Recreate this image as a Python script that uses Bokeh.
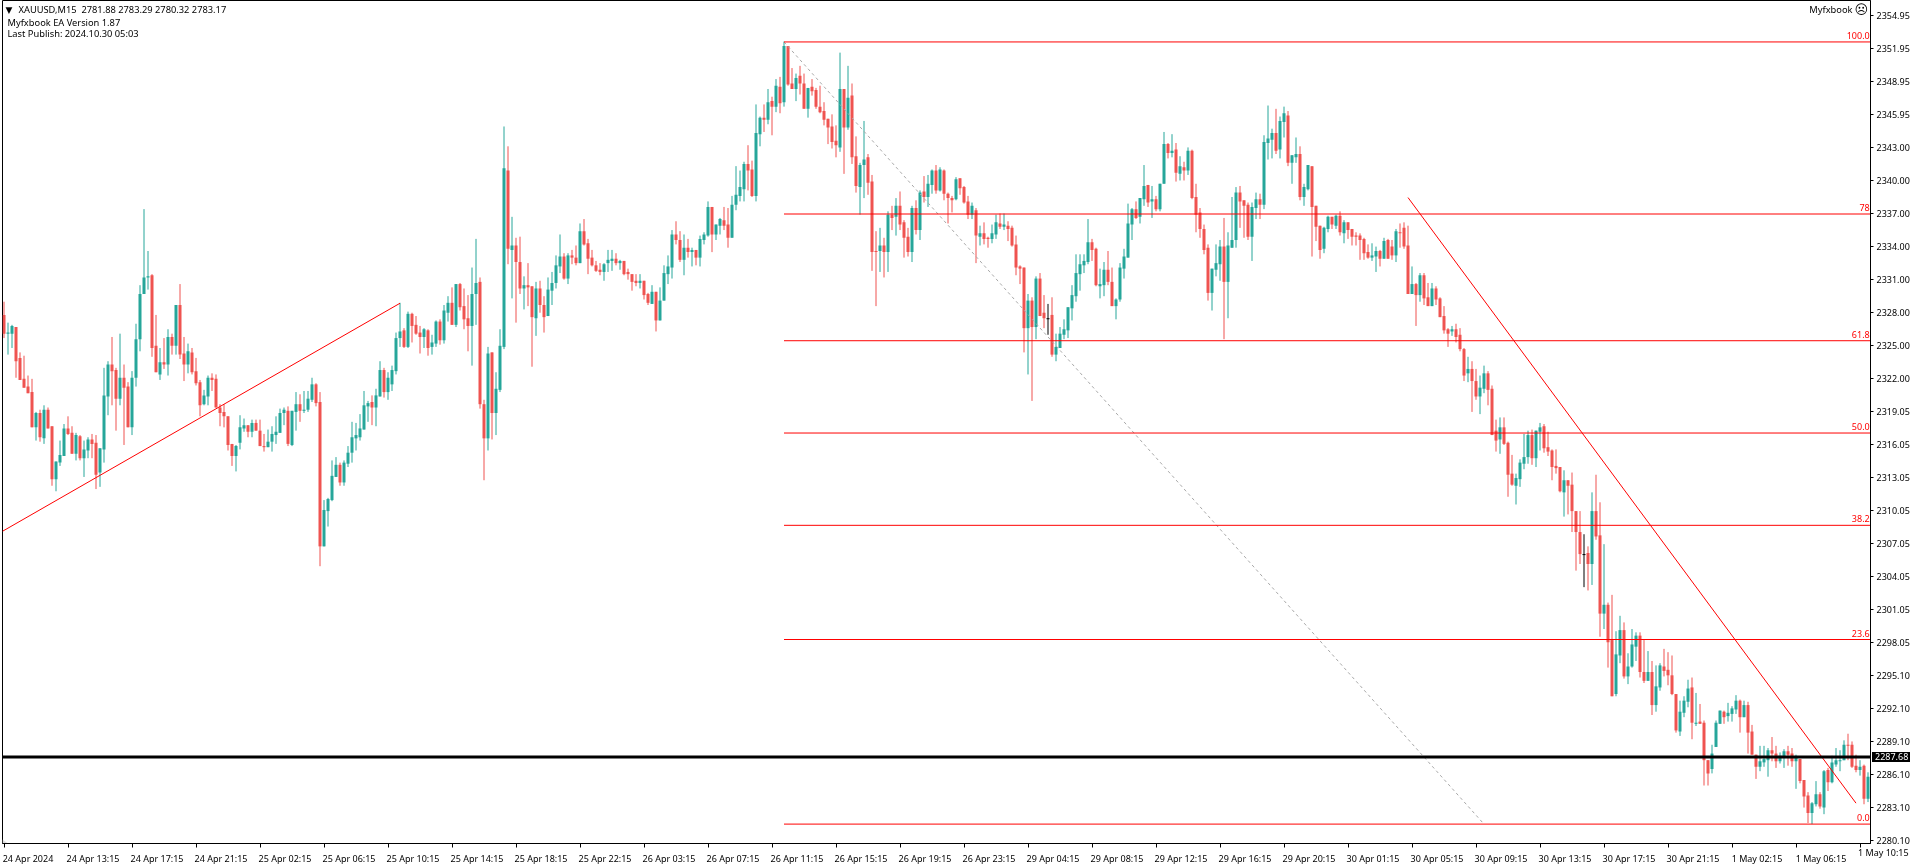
from bokeh.plotting import figure
from bokeh.models import (Range1d, FixedTicker, Label, LabelSet, ColumnDataSource, Span,
                          NumeralTickFormatter, Div)
from bokeh.embed import file_html
from bokeh.resources import INLINE
from bokeh.core.properties import value
import numpy as np

highs = [
2329.0,2327.1,2326.9,2326.7,2324.4,2324.1,2322.3,2322.0,2319.0,2319.2,
2319.6,2319.4,2317.7,2314.5,2316.4,2317.9,2318.6,2317.7,2317.1,2316.9,
2316.4,2316.7,2317.0,2316.9,2315.7,2323.0,2323.6,2325.8,2323.0,2326.1,
2323.3,2321.7,2322.7,2327.0,2330.5,2337.4,2333.6,2331.5,2327.8,2324.8,
2325.7,2326.5,2326.1,2328.7,2330.6,2325.8,2325.2,2324.8,2323.9,2321.9,
2321.0,2322.3,2322.5,2322.4,2319.7,2319.7,2318.6,2316.1,2316.0,2318.7,
2318.4,2317.8,2318.3,2318.3,2318.3,2317.0,2317.4,2317.7,2318.6,2319.3,
2319.4,2319.5,2319.1,2320.8,2320.6,2320.9,2320.9,2322.1,2321.6,2320.8,
2311.0,2311.2,2314.6,2314.9,2314.4,2314.6,2315.9,2318.1,2318.0,2318.8,
2320.9,2320.0,2320.5,2321.1,2323.6,2323.0,2322.6,2323.2,2326.2,2328.9,
2326.6,2328.1,2328.0,2327.7,2326.8,2326.6,2326.5,2326.0,2327.3,2327.4,
2328.7,2329.5,2330.3,2330.6,2330.7,2330.2,2329.6,2332.1,2334.7,2331.2,
2320.1,2324.9,2324.4,2322.6,2326.5,2344.9,2343.1,2336.7,2334.8,2334.9,
2331.3,2332.5,2330.4,2330.8,2330.9,2329.5,2331.2,2331.7,2333.2,2335.1,
2333.4,2333.4,2333.7,2334.1,2336.1,2336.5,2334.7,2333.7,2332.7,2332.5,
2332.5,2333.7,2333.7,2333.4,2332.8,2332.7,2332.0,2331.5,2331.5,2331.5,
2330.9,2329.8,2330.5,2329.9,2330.3,2332.3,2333.2,2335.5,2336.3,2335.4,
2335.1,2334.7,2333.9,2333.7,2335.0,2335.3,2338.1,2337.6,2336.0,2336.6,
2337.6,2337.5,2338.6,2341.3,2340.9,2341.7,2343.2,2341.8,2346.9,2345.8,
2346.9,2348.3,2347.6,2349.2,2349.4,2352.6,2352.2,2350.2,2349.7,2350.4,
2349.7,2348.4,2349.2,2348.4,2348.6,2347.1,2345.6,2346.0,2345.0,2351.6,
2348.3,2350.4,2348.8,2344.0,2341.6,2345.4,2342.4,2340.5,2335.4,2335.7,
2334.8,2337.2,2337.7,2338.4,2339.0,2336.4,2335.7,2337.7,2338.2,2339.1,
2340.4,2340.5,2341.0,2341.4,2341.2,2341.0,2338.9,2338.6,2340.3,2340.2,
2339.5,2338.6,2338.0,2337.5,2335.9,2336.2,2334.9,2336.0,2336.9,2337.0,
2337.0,2336.3,2335.9,2335.0,2332.3,2332.1,2329.7,2329.4,2331.3,2331.6,
2329.6,2328.8,2329.4,2326.1,2326.7,2327.4,2328.5,2330.5,2333.3,2333.3,
2333.3,2336.5,2334.7,2333.9,2332.0,2332.6,2333.6,2332.1,2329.3,2332.5,
2333.8,2337.9,2337.5,2338.1,2338.4,2341.4,2339.6,2339.5,2338.6,2339.7,
2344.4,2343.4,2344.2,2343.4,2342.2,2341.7,2343.0,2342.8,2339.7,2337.5,
2336.0,2334.2,2332.0,2334.2,2334.6,2336.6,2335.3,2338.5,2339.4,2339.5,
2338.2,2338.0,2338.0,2338.9,2338.8,2344.1,2346.8,2344.7,2346.5,2345.8,
2346.7,2346.3,2342.3,2343.9,2343.1,2339.7,2341.4,2341.3,2337.7,2335.9,
2335.8,2336.8,2336.7,2336.9,2337.2,2336.4,2336.2,2335.6,2335.3,2335.2,
2334.8,2334.2,2334.3,2334.0,2333.7,2334.8,2334.7,2334.6,2335.6,2336.1,
2336.2,2335.9,2332.2,2330.7,2331.6,2331.6,2330.7,2330.7,2330.4,2329.4,
2328.6,2326.6,2326.8,2327.0,2326.6,2324.8,2324.0,2323.6,2322.9,2322.3,
2323.2,2322.7,2321.4,2318.3,2318.5,2318.5,2316.3,2315.1,2313.4,2314.7,
2317.0,2317.3,2317.4,2317.3,2318.0,2317.9,2317.2,2315.6,2315.6,2314.0,
2313.7,2312.8,2313.5,2310.0,2310.0,2307.9,2306.8,2311.7,2313.3,2310.8,
2307.0,2301.7,2302.4,2299.1,2300.5,2299.9,2297.1,2299.3,2299.0,2299.0,
2298.3,2297.3,2296.4,2296.0,2296.2,2297.5,2297.2,2296.9,2293.4,2292.8,
2293.2,2294.7,2294.9,2293.5,2292.5,2291.0,2287.4,2288.8,2291.0,2291.9,
2291.9,2292.6,2292.3,2293.3,2292.9,2292.8,2292.7,2290.6,2287.9,2288.7,
2288.7,2288.5,2289.5,2288.7,2288.1,2288.4,2288.7,2288.5,2287.9,2287.5,
2285.6,2284.5,2283.6,2285.5,2284.5,2286.5,2286.7,2287.8,2288.5,2288.3,
2289.2,2289.8,2289.1,2287.9,2287.4,2287.0,2286.3,
]

lows = [
2325.7,2324.2,2324.8,2322.1,2321.9,2321.2,2320.7,2317.6,2316.4,2316.3,
2316.1,2317.5,2312.3,2311.8,2314.1,2315.0,2316.9,2315.2,2314.6,2314.6,
2313.1,2314.8,2314.8,2312.0,2312.2,2314.4,2318.7,2319.6,2317.3,2319.6,
2316.0,2317.6,2316.9,2321.3,2324.5,2329.7,2330.1,2324.0,2322.6,2321.9,
2322.9,2322.3,2324.2,2324.2,2323.8,2321.8,2322.5,2322.4,2321.4,2318.6,
2319.6,2319.6,2320.9,2319.4,2317.7,2317.6,2315.5,2314.1,2313.6,2315.6,
2317.2,2316.7,2316.7,2317.3,2315.9,2315.4,2315.8,2315.4,2316.1,2317.1,
2317.8,2315.9,2315.9,2317.3,2318.1,2318.9,2319.0,2319.9,2319.5,2305.0,
2306.8,2308.6,2310.9,2313.1,2312.3,2312.3,2314.0,2314.4,2315.5,2316.4,
2317.4,2318.1,2317.8,2317.7,2320.4,2320.3,2320.1,2320.9,2322.4,2324.9,
2324.8,2324.8,2325.3,2326.0,2324.3,2324.8,2324.1,2324.2,2324.9,2325.1,
2325.2,2327.2,2326.9,2326.7,2328.2,2326.5,2324.5,2323.2,2326.9,2319.3,
2312.8,2315.5,2316.5,2316.9,2320.8,2324.7,2332.4,2329.3,2327.1,2329.7,
2328.3,2328.6,2323.1,2325.9,2328.0,2326.2,2327.7,2328.7,2330.2,2331.6,
2331.0,2330.6,2332.4,2332.3,2332.5,2334.1,2331.5,2332.2,2331.7,2331.4,
2330.9,2331.7,2331.8,2332.3,2331.9,2331.4,2331.0,2330.0,2330.4,2330.2,
2329.2,2328.7,2328.8,2326.3,2327.3,2329.1,2330.6,2331.1,2334.2,2332.6,
2331.4,2333.0,2332.2,2332.3,2332.2,2334.2,2334.9,2333.5,2334.6,2335.1,
2335.5,2333.9,2334.8,2337.3,2338.1,2338.1,2339.1,2338.5,2338.1,2343.1,
2344.4,2345.1,2344.1,2346.2,2346.1,2346.7,2348.6,2348.3,2347.2,2347.8,
2346.5,2345.7,2347.7,2346.5,2346.1,2345.0,2343.3,2342.9,2342.1,2342.6,
2340.6,2344.6,2341.5,2338.9,2336.9,2338.4,2338.7,2331.8,2328.6,2331.7,
2331.2,2331.7,2335.5,2335.0,2335.5,2333.0,2333.1,2332.6,2335.1,2334.6,
2338.0,2337.6,2338.8,2338.8,2339.0,2338.2,2336.1,2337.1,2338.2,2338.7,
2337.9,2336.5,2336.5,2332.5,2334.1,2334.2,2333.9,2334.3,2334.7,2335.6,
2335.5,2334.5,2334.0,2331.4,2330.6,2324.4,2322.4,2320.0,2325.6,2327.7,
2326.6,2326.0,2324.0,2323.6,2324.8,2325.6,2325.7,2327.3,2329.0,2330.0,
2331.6,2332.4,2332.7,2330.4,2329.3,2329.5,2330.5,2328.6,2327.4,2329.0,
2331.1,2333.0,2334.6,2336.5,2336.1,2337.7,2337.6,2336.6,2337.2,2337.2,
2339.7,2342.0,2342.1,2339.9,2340.0,2340.0,2340.5,2338.3,2335.3,2334.8,
2333.3,2329.1,2328.2,2331.3,2330.9,2325.6,2327.5,2333.9,2333.9,2335.7,
2334.8,2334.6,2332.7,2336.5,2336.5,2337.4,2341.9,2342.0,2342.4,2342.0,
2343.9,2341.3,2339.7,2341.6,2338.2,2337.7,2339.1,2333.1,2334.5,2332.9,
2333.4,2335.3,2335.6,2335.6,2335.0,2334.3,2334.7,2334.1,2334.1,2332.8,
2332.8,2332.9,2332.7,2331.7,2332.2,2332.9,2332.9,2332.8,2332.6,2333.9,
2333.8,2329.7,2329.7,2326.8,2329.0,2328.7,2328.6,2328.6,2328.7,2327.6,
2326.1,2324.9,2325.9,2325.3,2324.5,2321.8,2321.7,2319.0,2320.1,2318.8,
2320.7,2319.6,2316.9,2315.4,2315.2,2316.0,2311.3,2312.3,2310.6,2312.2,
2313.8,2314.3,2314.2,2314.0,2315.5,2315.3,2315.0,2312.8,2313.4,2311.7,
2309.5,2309.7,2308.1,2304.6,2305.2,2303.1,2302.8,2303.3,2307.4,2298.6,
2299.3,2295.8,2293.2,2293.2,2296.2,2294.8,2294.3,2295.8,2296.4,2294.9,
2294.4,2294.6,2291.5,2291.8,2293.7,2295.0,2294.2,2293.3,2289.9,2289.6,
2291.3,2292.2,2289.3,2290.5,2290.7,2285.1,2285.1,2286.2,2288.6,2290.7,
2290.7,2290.9,2290.9,2291.6,2289.9,2291.3,2288.0,2287.9,2285.7,2286.4,
2286.8,2285.9,2287.3,2286.7,2287.1,2286.7,2286.9,2286.8,2284.8,2285.3,
2283.1,2281.7,2281.6,2283.2,2283.0,2282.5,2284.6,2285.3,2286.8,2286.4,
2287.4,2287.4,2286.7,2286.3,2286.0,2283.4,2283.6,
]

opens = [
2327.8,2326.1,2326.1,2326.7,2323.9,2322.0,2321.3,2320.8,2317.6,2318.9,
2316.6,2319.2,2317.7,2312.9,2314.4,2315.0,2317.5,2317.1,2315.2,2316.8,
2314.8,2315.5,2316.5,2316.2,2313.5,2315.6,2320.4,2323.3,2322.8,2320.2,
2322.1,2321.3,2317.6,2322.1,2325.6,2329.7,2331.2,2331.4,2325.0,2322.4,
2323.5,2323.3,2325.8,2325.0,2328.7,2324.3,2323.3,2324.4,2322.7,2321.7,
2319.7,2320.4,2322.1,2322.0,2319.4,2319.0,2318.6,2316.1,2315.0,2316.2,
2317.5,2317.8,2317.2,2318.0,2317.3,2315.9,2315.8,2316.3,2316.9,2317.1,
2318.9,2319.1,2316.0,2319.0,2319.7,2319.1,2319.2,2320.1,2321.5,2319.9,
2306.8,2310.0,2311.0,2313.1,2314.2,2312.6,2314.3,2315.3,2316.6,2316.7,
2317.4,2319.5,2319.9,2319.4,2320.4,2322.8,2320.8,2321.5,2322.7,2325.7,
2326.4,2324.9,2327.9,2326.9,2326.2,2325.8,2326.4,2324.9,2325.2,2327.2,
2325.5,2328.0,2328.9,2326.9,2330.6,2328.6,2327.5,2326.8,2329.7,2330.8,
2319.7,2316.6,2324.4,2318.9,2321.0,2324.9,2340.9,2333.7,2334.1,2332.6,
2330.2,2330.5,2330.4,2327.5,2330.2,2328.7,2327.7,2330.0,2330.7,2332.2,
2333.1,2331.1,2333.2,2333.0,2332.5,2335.4,2334.3,2333.0,2332.3,2331.9,
2331.7,2332.5,2332.7,2332.9,2332.5,2332.7,2331.7,2331.5,2330.9,2330.7,
2330.9,2329.7,2328.8,2329.9,2327.3,2329.1,2331.5,2332.1,2335.1,2334.6,
2332.8,2333.9,2333.5,2333.7,2333.0,2334.6,2335.0,2337.6,2335.1,2335.9,
2336.4,2336.0,2334.8,2337.8,2338.6,2339.2,2341.5,2341.0,2338.6,2344.2,
2345.7,2345.5,2347.2,2346.7,2348.5,2347.1,2352.2,2348.8,2348.3,2349.5,
2348.8,2346.5,2348.5,2348.2,2346.7,2346.3,2345.6,2344.9,2343.6,2343.0,
2348.3,2344.8,2347.7,2342.2,2339.4,2341.4,2342.1,2339.9,2333.6,2333.6,
2334.1,2333.5,2336.9,2336.7,2337.7,2336.2,2334.9,2333.5,2337.5,2335.5,
2339.0,2338.5,2339.6,2340.9,2339.1,2340.9,2338.8,2338.4,2338.3,2340.2,
2339.4,2338.1,2336.9,2337.3,2334.9,2335.2,2334.8,2334.7,2335.1,2336.1,
2335.8,2335.9,2335.7,2334.2,2332.2,2332.1,2326.6,2329.1,2326.7,2331.1,
2328.0,2327.5,2327.8,2324.2,2324.8,2326.0,2326.4,2328.4,2329.5,2331.5,
2332.3,2332.6,2334.4,2333.8,2330.4,2330.5,2331.9,2330.8,2328.6,2329.2,
2332.0,2333.0,2336.0,2337.4,2336.7,2338.3,2339.6,2338.1,2338.3,2337.4,
2339.7,2343.3,2342.5,2342.8,2340.6,2341.2,2340.9,2342.7,2338.5,2337.1,
2335.6,2333.9,2329.8,2331.9,2332.4,2334.0,2330.8,2333.9,2334.6,2338.9,
2338.2,2337.8,2334.9,2337.5,2338.3,2337.8,2343.4,2343.7,2344.3,2342.8,
2345.3,2345.9,2341.6,2342.1,2342.4,2338.5,2339.2,2341.3,2337.7,2335.9,
2333.8,2335.6,2336.7,2335.9,2336.8,2335.2,2336.2,2335.6,2335.0,2335.0,
2334.7,2333.5,2333.0,2333.1,2333.6,2332.9,2334.6,2334.0,2333.2,2335.3,
2335.7,2334.1,2329.7,2330.6,2329.6,2331.4,2329.4,2328.6,2330.2,2329.3,
2327.7,2326.5,2326.3,2326.5,2326.0,2324.7,2322.5,2322.9,2321.8,2320.4,
2321.1,2322.5,2321.1,2317.3,2316.5,2317.6,2316.2,2313.4,2312.3,2312.9,
2314.3,2314.9,2316.9,2314.8,2317.2,2317.7,2315.8,2315.5,2314.1,2314.0,
2311.7,2312.8,2312.4,2310.0,2308.1,2306.1,2306.2,2305.2,2310.0,2307.8,
2300.7,2301.5,2298.3,2293.4,2296.9,2299.2,2295.0,2295.9,2297.7,2298.7,
2295.4,2294.6,2295.4,2292.4,2294.0,2295.9,2295.6,2295.1,2293.4,2290.0,
2291.7,2292.7,2294.0,2290.7,2290.9,2290.8,2287.4,2286.6,2288.6,2290.7,
2291.8,2291.4,2291.6,2292.0,2292.8,2291.3,2292.4,2290.0,2287.9,2286.8,
2287.2,2287.4,2288.3,2288.0,2287.3,2287.6,2288.2,2288.0,2287.3,2287.5,
2285.6,2284.2,2282.6,2283.4,2284.3,2283.1,2286.5,2285.4,2287.0,2287.3,
2287.4,2288.8,2288.8,2286.9,2286.5,2286.9,2283.9,
]

closes = [
2326.1,2326.2,2326.8,2323.6,2321.9,2321.2,2320.7,2317.6,2318.9,2316.7,
2319.2,2317.5,2312.9,2314.5,2315.1,2317.5,2317.0,2315.2,2316.9,2314.8,
2315.6,2316.5,2316.1,2313.3,2315.7,2320.5,2323.3,2322.7,2320.2,2322.1,
2321.2,2317.6,2322.1,2325.6,2329.7,2331.2,2331.3,2324.8,2322.6,2323.5,
2323.3,2325.8,2325.0,2328.7,2324.2,2323.3,2324.5,2322.6,2321.6,2319.6,
2320.5,2322.1,2321.9,2319.4,2318.9,2318.6,2316.0,2315.0,2315.9,2317.6,
2317.8,2317.2,2318.0,2317.3,2315.9,2315.8,2316.3,2317.0,2317.2,2318.9,
2319.2,2316.1,2319.1,2319.7,2319.1,2319.2,2320.2,2321.5,2319.8,2306.8,
2310.1,2311.1,2313.2,2314.2,2312.6,2314.4,2315.3,2316.7,2316.9,2317.5,
2319.6,2319.8,2319.4,2320.5,2322.8,2320.8,2322.1,2322.8,2325.7,2326.3,
2324.9,2327.9,2326.8,2326.1,2325.8,2326.5,2324.8,2325.3,2327.2,2325.5,
2328.2,2328.9,2326.9,2330.6,2328.5,2327.4,2326.8,2329.7,2330.7,2319.7,
2316.6,2324.3,2318.9,2321.1,2325.0,2341.1,2333.8,2334.1,2332.6,2330.2,
2330.5,2330.3,2327.6,2330.2,2328.7,2327.6,2330.1,2330.7,2332.3,2333.1,
2331.1,2333.2,2333.0,2332.5,2335.4,2334.2,2332.9,2332.3,2331.8,2331.7,
2332.4,2332.8,2332.9,2332.5,2332.7,2331.5,2331.5,2330.8,2330.7,2330.9,
2329.6,2328.9,2329.9,2327.3,2329.1,2331.6,2332.2,2335.1,2334.6,2332.8,
2333.9,2333.5,2333.7,2333.0,2334.7,2335.1,2337.6,2335.1,2336.0,2336.5,
2335.9,2334.8,2337.8,2338.7,2339.4,2341.5,2340.9,2338.6,2344.3,2345.7,
2345.5,2347.1,2346.7,2348.6,2347.0,2352.2,2348.7,2348.3,2349.3,2348.8,
2346.5,2348.4,2348.1,2346.7,2346.2,2345.5,2344.8,2343.5,2343.2,2348.3,
2344.8,2347.5,2342.1,2339.5,2341.4,2341.9,2339.8,2333.5,2333.5,2334.1,
2333.5,2336.9,2336.6,2337.7,2336.0,2334.8,2333.5,2337.5,2335.5,2338.9,
2338.5,2339.7,2340.9,2339.1,2341.0,2338.8,2338.4,2338.2,2340.1,2339.3,
2338.0,2336.9,2337.7,2335.0,2335.2,2334.7,2334.7,2335.2,2336.2,2335.8,
2336.0,2335.6,2334.1,2332.1,2332.0,2326.6,2329.1,2326.7,2331.1,2327.7,
2327.5,2327.5,2324.2,2324.9,2326.1,2326.5,2328.5,2329.6,2331.6,2332.4,
2332.7,2334.4,2333.7,2330.5,2330.6,2331.9,2330.8,2328.6,2329.2,2332.1,
2333.1,2336.1,2337.4,2336.6,2338.4,2339.5,2338.0,2338.3,2337.4,2339.7,
2343.3,2342.5,2342.7,2340.7,2341.3,2340.9,2342.7,2338.4,2336.9,2335.6,
2333.7,2329.8,2332.0,2332.5,2334.0,2330.8,2334.1,2334.6,2338.9,2338.1,
2337.7,2334.9,2337.6,2338.3,2337.8,2343.5,2343.8,2344.3,2342.7,2345.4,
2346.1,2341.6,2342.3,2342.4,2338.5,2339.4,2341.4,2337.6,2335.8,2333.7,
2335.7,2336.7,2336.0,2336.8,2335.3,2336.2,2335.5,2334.9,2334.9,2334.6,
2333.4,2333.0,2333.2,2333.6,2332.9,2334.5,2332.9,2333.2,2335.4,2335.2,
2334.0,2329.7,2330.6,2329.6,2331.4,2329.3,2328.6,2330.2,2329.2,2327.6,
2326.4,2326.1,2326.5,2325.8,2324.7,2322.3,2322.9,2321.8,2320.4,2321.2,
2322.5,2321.0,2316.9,2316.4,2317.6,2316.1,2313.3,2312.4,2313.0,2314.4,
2314.9,2316.9,2314.8,2317.3,2317.6,2315.7,2315.4,2314.0,2313.9,2311.8,
2312.8,2312.3,2310.0,2308.1,2306.1,2306.1,2305.2,2310.0,2307.7,2300.7,
2301.5,2298.1,2293.2,2297.0,2299.2,2295.0,2295.9,2297.9,2298.7,2295.4,
2294.6,2295.4,2292.4,2294.1,2296.0,2295.5,2295.1,2293.4,2290.1,2291.8,
2292.8,2293.9,2290.8,2290.8,2290.7,2287.4,2286.2,2288.0,2290.8,2291.9,
2291.3,2291.7,2292.1,2292.8,2291.3,2292.4,2289.9,2287.9,2286.8,2287.3,
2287.5,2288.3,2288.0,2287.3,2287.8,2288.2,2287.9,2287.3,2287.6,2285.5,
2284.1,2282.6,2283.5,2284.3,2283.2,2286.4,2285.4,2287.2,2287.4,2287.4,
2288.8,2288.7,2286.8,2286.5,2286.8,2283.9,2285.9,
]

y_ticks = [2354.95,2351.95,2348.95,2345.95,2343.00,2340.00,2337.00,2334.00,2331.00,2328.00,
           2325.00,2322.00,2319.05,2316.05,2313.05,2310.05,2307.05,2304.05,2301.05,2298.05,
           2295.10,2292.10,2289.10,2286.10,2283.10,2280.10]
x_tick_labels = ["24 Apr 2024","24 Apr 13:15","24 Apr 17:15","24 Apr 21:15","25 Apr 02:15","25 Apr 06:15",
                 "25 Apr 10:15","25 Apr 14:15","25 Apr 18:15","25 Apr 22:15","26 Apr 03:15","26 Apr 07:15",
                 "26 Apr 11:15","26 Apr 15:15","26 Apr 19:15","26 Apr 23:15","29 Apr 04:15","29 Apr 08:15",
                 "29 Apr 12:15","29 Apr 16:15","29 Apr 20:15","30 Apr 01:15","30 Apr 05:15","30 Apr 09:15",
                 "30 Apr 13:15","30 Apr 17:15","30 Apr 21:15","1 May 02:15","1 May 06:15","1 May 10:15"]
x_tick_bars = [16 * k for k in range(len(x_tick_labels))]

fib_levels = [100.0, 78.0, 61.8, 50.0, 38.2, 23.6, 0.0]
fib_labels = ["100.0", "78", "61.8", "50.0", "38.2", "23.6", "0.0"]
fib_low = 2281.6
fib_high = 2352.57
fib_start_bar = 195
fib_end_bar = 370
current_price = 2287.68
trend1_bars = [-0.375, 99]
trend1_prices = [2308.17, 2328.86]
trend2_bars = [351, 463]
trend2_prices = [2338.45, 2283.5]

GREEN = "#26a69a"
RED = "#ef5350"
FONT = "Noto Sans"
TXT = "9px"
HEAD = "9.3px"
H = 863
FRAME_L, FRAME_B = 2, 843

n = len(opens)
assert len(highs) == len(lows) == len(closes) == n == 467
bars = np.arange(n)
o, c = np.array(opens), np.array(closes)
hi = np.maximum(np.array(highs), np.maximum(o, c))
lo = np.minimum(np.array(lows), np.minimum(o, c))
top = np.maximum(o, c)
bot = np.minimum(o, c)
col = np.where(c > o, GREEN, np.where(c < o, RED, "black"))
bot_draw = np.where(top - bot < 0.09, top - 0.09, bot)
src = ColumnDataSource(dict(x=bars, hi=hi, lo=lo, top=top, bot=bot_draw, col=col))

right_end = (1870 - 3.5) / 4
p = figure(width=1910, height=H, frame_width=1868, frame_height=843,
           x_range=Range1d(-0.375, right_end), y_range=Range1d(2279.84, 2356.33),
           output_backend="svg", toolbar_location=None,
           min_border_left=2, min_border_right=40, min_border_top=0, min_border_bottom=20,
           x_axis_location="below", y_axis_location="right",
           background_fill_color="white", border_fill_color="white",
           outline_line_color="black", outline_line_width=1)
p.styles = {"position": "fixed", "left": "0px", "top": "0px", "box-shadow": "0 3px 0 #f0f0f0"}
p.grid.visible = False

# axis text sits beside its tick, so labels hang on shifted major ticks and the marks are minor ticks
label_centres = [b + 6.25 for b in x_tick_bars[:-1]]
label_centres[0] = 6.0
xa = p.xaxis[0]
xa.ticker = FixedTicker(ticks=label_centres, minor_ticks=x_tick_bars)
xa.major_label_overrides = dict(zip(label_centres, x_tick_labels[:-1]))
xa.major_tick_out = 0
xa.major_tick_in = 0
xa.major_tick_line_color = None
xa.minor_tick_out = 4
xa.minor_tick_in = 0
xa.minor_tick_line_color = "black"
xa.axis_line_color = "black"
xa.major_label_text_color = "black"
xa.major_label_text_font = FONT
xa.major_label_text_font_size = TXT
xa.major_label_standoff = 4

ya = p.yaxis[0]
ya.ticker = FixedTicker(ticks=y_ticks)
ya.formatter = NumeralTickFormatter(format="0.00")
ya.major_tick_out = 3
ya.major_tick_in = 0
ya.minor_tick_line_color = None
ya.axis_line_color = "black"
ya.major_tick_line_color = "black"
ya.major_label_standoff = 3
ya.major_label_text_font = FONT
ya.major_label_text_font_size = TXT
ya.major_label_text_color = "black"

p.patch([-0.375, 1.0, -0.375], [2280.2, 2279.84, 2279.84], fill_color="#dddddd", line_color=None)
p.segment("x", "hi", "x", "lo", source=src, line_color="col", line_width=1)
p.vbar(x="x", width=0.75, top="top", bottom="bot", source=src, fill_color="col", line_color=None)

p.line(trend1_bars, trend1_prices, line_color="#ff0000", line_width=1)
p.line(trend2_bars, trend2_prices, line_color="#ff0000", line_width=1)
p.line([fib_start_bar, fib_end_bar], [fib_high, fib_low], line_color="#a8a8a8", line_width=1, line_dash="3 3")

fib_prices = [fib_low + (fib_high - fib_low) * lv / 100 for lv in fib_levels]
p.segment([fib_start_bar] * 7, fib_prices, [right_end] * 7, fib_prices, line_color="#ff0000", line_width=1)
p.add_layout(Span(location=current_price, dimension="width", line_color="black", line_width=3))

p.add_layout(LabelSet(x="x", y="y", text="t", source=ColumnDataSource(dict(
    x=[right_end - 0.2] * 7, y=fib_prices, t=fib_labels)),
    text_align="right", text_baseline="bottom", y_offset=3,
    text_color="#ff0000", text_font=value(FONT), text_font_size=TXT))

def lab(x, y, text, size=HEAD, align="left", color="black", font=FONT):
    p.add_layout(Label(x=x - FRAME_L, y=FRAME_B - y, x_units="screen", y_units="screen", text=text,
                       text_align=align, text_baseline="middle", text_color=color, text_font=font,
                       text_font_size=size))

lab(5, 9, "▼", size="9px", font="DejaVu Sans")
lab(18, 9, "XAUUSD,M15\u00a0\u00a02781.88 2783.29 2780.32 2783.17")
lab(7, 22, "Myfxbook EA Version 1.87")
lab(7, 33, "Last Publish: 2024.10.30 05:03")
lab(1852, 9, "Myfxbook", align="right")
lab(1854, 9, "☹", size="13px", font="DejaVu Sans")

def box(left, top_px, w, h, text, **css):
    style = {"position": "fixed", "left": f"{left}px", "top": f"{top_px}px", "font-family": FONT,
             "font-size": TXT, "line-height": f"{h}px", "white-space": "nowrap"}
    style.update(css)
    return Div(text=text, width=w, height=h, margin=0, styles=style)

price_tag = box(1872, 752, 38, 10, f"{current_price:.2f}", background="black", color="white",
                **{"padding-left": "3px", "box-sizing": "border-box", "overflow": "visible"})
last_tick = box(1858, 847, 52, 12, x_tick_labels[-1], color="black", overflow="hidden")

open("out.html", "w").write(file_html([p, price_tag, last_tick], INLINE))
